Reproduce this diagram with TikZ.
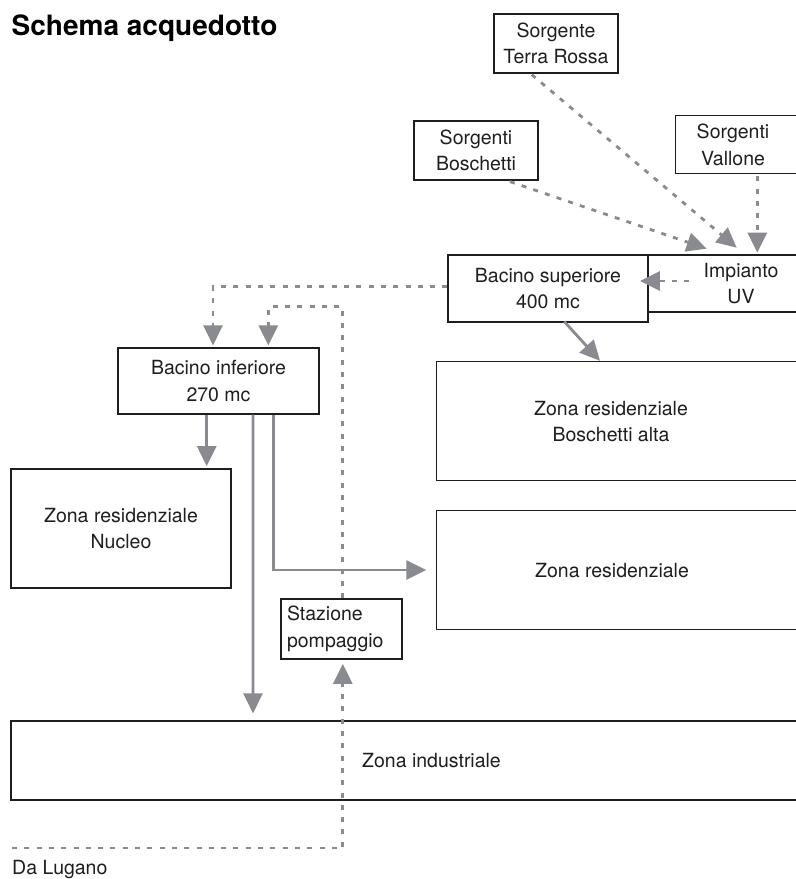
\documentclass[tikz,border=0pt]{standalone}
\usepackage{fontspec}
\setmainfont{TeX Gyre Heros}
\usetikzlibrary{arrows.meta,calc}
\definecolor{pipe}{RGB}{137,139,144}
\definecolor{ink}{RGB}{30,30,30}
\newcommand{\myfont}{\fontsize{19.5bp}{26.5bp}\selectfont}
\newcommand{\mytitlefont}{\fontsize{28bp}{32bp}\selectfont\bfseries}
\begin{document}
\begin{tikzpicture}[x=1bp,y=-1bp,
  box/.style={draw=ink, line width=1.2bp, align=center, inner sep=0pt, text=ink, font=\myfont},
  openbox/.style={draw=none, align=center, inner sep=0pt, text=ink, font=\myfont},
  frame/.style={draw=ink, line width=1.2bp},
  spipe/.style={draw=pipe, line width=2.8bp, -{Triangle[width=19bp,length=20bp]}, color=pipe},
  dpipe/.style={draw=pipe, line width=2.8bp, dash pattern=on 5bp off 7.3bp, -{Triangle[width=19bp,length=20bp]}, color=pipe},
  dline/.style={draw=pipe, line width=2.8bp, dash pattern=on 5bp off 7.3bp}
]
\useasboundingbox (0,0) rectangle (796,879);
\clip (0,0) rectangle (796,879);

% title
\node[anchor=base west, inner sep=0pt, font=\mytitlefont, text=black] (title) at (11.5,35) {Schema acquedotto};

% boxes
\node[box, minimum width=124bp, minimum height=59bp] (tr) at (556,43.5) {Sorgente\\Terra Rossa};
\node[box, minimum width=124bp, minimum height=59bp] (sb) at (476,150.5) {Sorgenti\\Boschetti};
\node[openbox, minimum width=114bp, minimum height=58bp] (sv) at (733,145) {Sorgenti\\Vallone};
\draw[frame] (sv.north west) rectangle ++(200,58);
\node[box, minimum width=200bp, minimum height=67bp] (bs) at (548,288.5) {Bacino superiore\\400 mc};
\node[box, minimum width=186bp, minimum height=57bp] (uv) at (741,283.5) {Impianto\\UV};
\node[box, minimum width=201bp, minimum height=66bp] (bi) at (218.5,381) {Bacino inferiore\\270 mc};
\node[box, minimum width=220bp, minimum height=119bp] (zn) at (121,528.5) {Zona residenziale\\Nucleo};
\node[openbox, minimum width=348bp, minimum height=119bp] (zb) at (611,421.5) {Zona residenziale\\Boschetti alta};
\draw[frame] (zb.north west) rectangle ++(420,119);
\node[openbox, minimum width=350bp, minimum height=119bp] (zr) at (612,570.5) {Zona residenziale};
\draw[frame] (zr.north west) rectangle ++(420,119);
\node[box, text width=109bp, inner xsep=6bp, align=left, minimum height=60bp] (sp) at (341.5,629) {Stazione\\pompaggio};
\node[box, minimum width=841bp, minimum height=79bp] (zi) at (431.5,760.5) {Zona industriale};
\node[anchor=base west, inner sep=0pt, font=\myfont, text=ink] (dl) at (12,874) {Da Lugano};

% connectors
\draw[dpipe] ($(tr.south)+(-24.3,1)$) -- ($(uv.north)+(-4.3,-6.7)$);
\draw[dpipe] ($(sb.south)+(34,1)$) -- ($(uv.north)+(-34.3,-5.7)$);
\draw[dpipe] ($(sv.south)+(24.3,2)$) -- ($(uv.north)+(16.3,-1.7)$);
\draw[dpipe] ($(uv.west)+(42,-2.5)$) -- ($(bs.east)+(-8.7,-7.5)$);
\draw[dpipe] ($(bs.west)+(0,-1.8)$) -| ($(bi.north)+(-5.5,-2)$);
\draw[dpipe] ($(sp.north)+(1.3,0)$) |- ($(bi.north)+(49.8,-40.7)$) -- ($(bi.north)+(49.8,-2)$);
\draw[spipe] ($(bi.south)+(-11.8,0)$) -- ($(zn.north)+(85.7,-2.3)$);
\draw[spipe] ($(bi.south)+(34.5,0)$) -- ($(zi.north)+(-178.5,-7)$);
\draw[spipe] ($(bi.south)+(54.8,0)$) |- ($(zr.west)+(-10.5,-0.5)$);
\draw[spipe] ($(bs.south)+(16.3,-1)$) -- ($(zb.north)+(-11,-1)$);
\coordinate (lug) at (12,848);
\draw[dpipe] (lug) -| ($(sp.south)+(1.3,4.3)$);
\end{tikzpicture}
\end{document}
